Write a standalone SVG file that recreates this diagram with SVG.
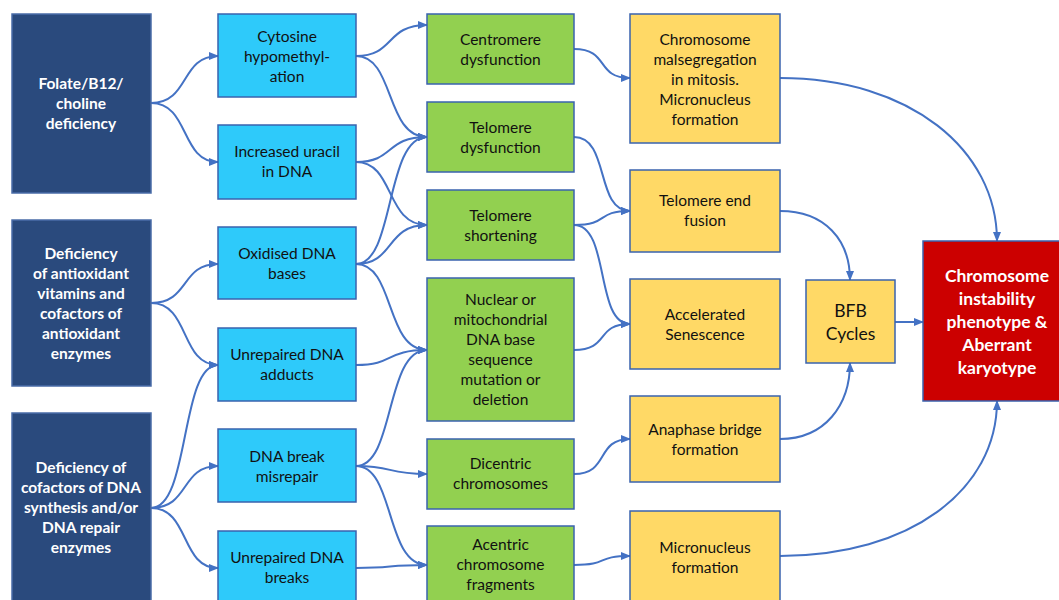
<svg xmlns="http://www.w3.org/2000/svg" width="1059" height="600" viewBox="0 0 1059 600">
<style>
.n rect{stroke:#3A63AE;stroke-width:1.5}
.c1 rect{fill:#2A4A7D;stroke:#4A6CA8}
.c2 rect{fill:#2ECAFA}
.c3 rect{fill:#92D050}
.c4 rect{fill:#FFD966}
.c5 rect{fill:#CC0000}
text{font-family:Lato,"Liberation Sans",sans-serif;font-size:15.5px;text-anchor:middle;fill:#111}
.c1 text{fill:#fff;font-weight:bold}
.c5 text{fill:#fff;font-weight:bold;font-size:17.5px}
.big{font-size:17.5px}
#edges path{fill:none;stroke:#4472C4;stroke-width:2;marker-end:url(#ah)}
</style>
<defs>
<marker id="ah" markerUnits="userSpaceOnUse" markerWidth="10" markerHeight="10" viewBox="0 0 10 10" refX="9" refY="5" orient="auto">
<path d="M0,1 L10,5 L0,9 Z" fill="#4472C4"/>
</marker>
</defs>
<rect width="1059" height="600" fill="#fff"/>
<g id="edges">
<path d="M151,103 C190,103 180,56 218,56"/>
<path d="M151,103 C190,103 180,162 218,162"/>
<path d="M151,303 C190,303 180,264 218,264"/>
<path d="M151,303 C190,303 180,365 218,365"/>
<path d="M151,508 C190,508 180,365 218,365"/>
<path d="M151,508 C190,508 180,466 218,466"/>
<path d="M151,508 C190,508 180,568 218,568"/>
<path d="M356,56 C395,56 385,25 427,25"/>
<path d="M356,56 C395,56 385,137 427,137"/>
<path d="M356,162 C395,162 385,137 427,137"/>
<path d="M356,162 C395,162 385,225 427,225"/>
<path d="M356,264 C395,264 385,137 427,137"/>
<path d="M356,264 C395,264 385,225 427,225"/>
<path d="M356,264 C395,264 385,350 427,350"/>
<path d="M356,365 C395,365 385,350 427,350"/>
<path d="M356,466 C395,466 385,350 427,350"/>
<path d="M356,466 C395,466 385,474 427,474"/>
<path d="M356,466 C395,466 385,565 427,565"/>
<path d="M356,568 C395,568 385,565 427,565"/>
<path d="M574,49 C610,49 595,78 630,78"/>
<path d="M574,137 C610,137 595,211 630,211"/>
<path d="M574,225 C610,225 595,211 630,211"/>
<path d="M574,225 C610,225 595,324 630,324"/>
<path d="M574,350 C610,350 595,324 630,324"/>
<path d="M574,474 C610,474 595,439 630,439"/>
<path d="M574,565 C610,565 595,556 630,556"/>
<path d="M780,78 C910,78 997,150 997,241"/>
<path d="M780,211 C825,211 850,240 850,280"/>
<path d="M780,439 C825,439 850,405 850,363"/>
<path d="M895,322 L923,322"/>
<path d="M780,556 C910,556 997,490 997,401"/>
</g>
<g id="folate" class="n c1"><rect x="12" y="14" width="139" height="179"/><text x="81" y="89">Folate/B12/</text><text x="81" y="109">choline</text><text x="81" y="129">deficiency</text></g>
<g id="antiox" class="n c1"><rect x="12" y="220" width="139" height="166"/><text x="81" y="259">Deficiency</text><text x="81" y="279">of antioxidant</text><text x="81" y="299">vitamins and</text><text x="81" y="319">cofactors of</text><text x="81" y="339">antioxidant</text><text x="81" y="359">enzymes</text></g>
<g id="dnasyn" class="n c1"><rect x="12" y="413" width="139" height="195"/><text x="81" y="473">Deficiency of</text><text x="81" y="493">cofactors of DNA</text><text x="81" y="513">synthesis and/or</text><text x="81" y="533">DNA repair</text><text x="81" y="553">enzymes</text></g>
<g id="cytosine" class="n c2"><rect x="218" y="14" width="138" height="83"/><text x="287" y="42">Cytosine</text><text x="287" y="62">hypomethyl-</text><text x="287" y="82">ation</text></g>
<g id="uracil" class="n c2"><rect x="218" y="125" width="138" height="74"/><text x="287" y="157">Increased uracil</text><text x="287" y="177">in DNA</text></g>
<g id="oxidised" class="n c2"><rect x="218" y="227" width="138" height="72"/><text x="287" y="259">Oxidised DNA</text><text x="287" y="279">bases</text></g>
<g id="adducts" class="n c2"><rect x="218" y="328" width="138" height="73"/><text x="287" y="360">Unrepaired DNA</text><text x="287" y="380">adducts</text></g>
<g id="misrepair" class="n c2"><rect x="218" y="429" width="138" height="73"/><text x="287" y="462">DNA break</text><text x="287" y="482">misrepair</text></g>
<g id="breaks" class="n c2"><rect x="218" y="531" width="138" height="77"/><text x="287" y="563">Unrepaired DNA</text><text x="287" y="583">breaks</text></g>
<g id="centromere" class="n c3"><rect x="427" y="14" width="147" height="70"/><text x="500.5" y="45">Centromere</text><text x="500.5" y="65">dysfunction</text></g>
<g id="teldys" class="n c3"><rect x="427" y="102" width="147" height="70"/><text x="500.5" y="133">Telomere</text><text x="500.5" y="153">dysfunction</text></g>
<g id="telshort" class="n c3"><rect x="427" y="190" width="147" height="70"/><text x="500.5" y="221">Telomere</text><text x="500.5" y="241">shortening</text></g>
<g id="nuclear" class="n c3"><rect x="427" y="278" width="147" height="143"/><text x="500.5" y="305">Nuclear or</text><text x="500.5" y="325">mitochondrial</text><text x="500.5" y="345">DNA base</text><text x="500.5" y="365">sequence</text><text x="500.5" y="385">mutation or</text><text x="500.5" y="405">deletion</text></g>
<g id="dicentric" class="n c3"><rect x="427" y="439" width="147" height="70"/><text x="500.5" y="469">Dicentric</text><text x="500.5" y="489">chromosomes</text></g>
<g id="acentric" class="n c3"><rect x="427" y="526" width="147" height="82"/><text x="500.5" y="550">Acentric</text><text x="500.5" y="570">chromosome</text><text x="500.5" y="590">fragments</text></g>
<g id="malseg" class="n c4"><rect x="630" y="14" width="150" height="129"/><text x="705" y="45">Chromosome</text><text x="705" y="65">malsegregation</text><text x="705" y="85">in mitosis.</text><text x="705" y="105">Micronucleus</text><text x="705" y="125">formation</text></g>
<g id="endfusion" class="n c4"><rect x="630" y="170" width="150" height="82"/><text x="705" y="206">Telomere end</text><text x="705" y="226">fusion</text></g>
<g id="senescence" class="n c4"><rect x="630" y="279" width="150" height="90"/><text x="705" y="320">Accelerated</text><text x="705" y="340">Senescence</text></g>
<g id="anaphase" class="n c4"><rect x="630" y="396" width="150" height="86"/><text x="705" y="435">Anaphase bridge</text><text x="705" y="455">formation</text></g>
<g id="micronucleus" class="n c4"><rect x="630" y="511" width="150" height="97"/><text x="705" y="553">Micronucleus</text><text x="705" y="573">formation</text></g>
<g id="bfb" class="n c4"><rect x="806" y="280" width="89" height="83"/><text class="big" x="850.5" y="317">BFB</text><text class="big" x="850.5" y="340">Cycles</text></g>
<g id="cin" class="n c5"><rect x="923" y="241" width="140" height="160"/><text x="997" y="282">Chromosome</text><text x="997" y="305">instability</text><text x="997" y="328">phenotype &amp;</text><text x="997" y="351">Aberrant</text><text x="997" y="374">karyotype</text></g>
</svg>
